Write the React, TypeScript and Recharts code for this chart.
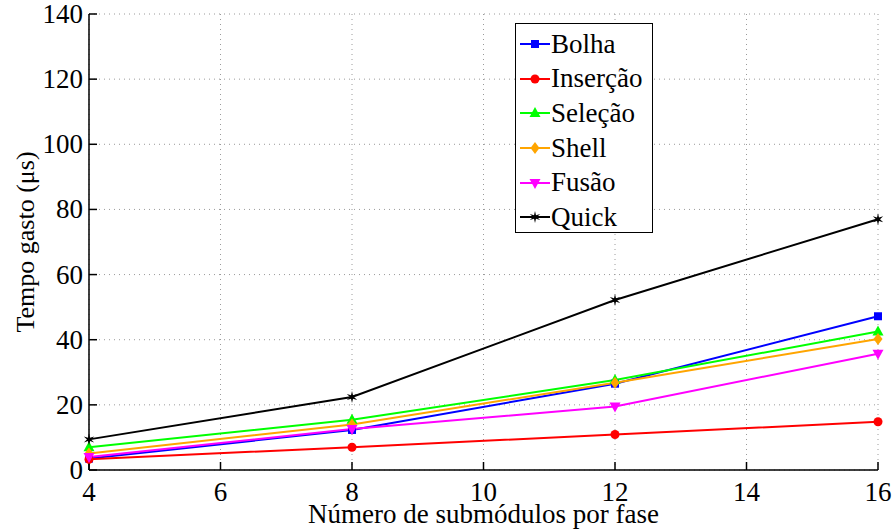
import { LineChart, Line, XAxis, YAxis, CartesianGrid } from "recharts";

const submodulos = [4, 8, 12, 16];

const bolha = [3.5, 12.3, 26.5, 47.2];
const insercao = [3.3, 7.0, 10.9, 14.8];
const selecao = [7.0, 15.4, 27.6, 42.5];
const shell = [5.1, 14.0, 26.8, 40.2];
const fusao = [4.0, 12.6, 19.5, 35.7];
const quick = [9.4, 22.4, 52.2, 77.0];

const xTicks = [4, 6, 8, 10, 12, 14, 16];
const yTicks = [0, 20, 40, 60, 80, 100, 120, 140];

const data = submodulos.map((n, i) => ({
  n,
  bolha: bolha[i],
  insercao: insercao[i],
  selecao: selecao[i],
  shell: shell[i],
  fusao: fusao[i],
  quick: quick[i],
}));

type Shape = "square" | "circle" | "up" | "diamond" | "down" | "star";

const series: { key: string; name: string; color: string; shape: Shape }[] = [
  { key: "bolha", name: "Bolha", color: "#0000ff", shape: "square" },
  { key: "insercao", name: "Inserção", color: "#ff0000", shape: "circle" },
  { key: "selecao", name: "Seleção", color: "#00ff00", shape: "up" },
  { key: "shell", name: "Shell", color: "#ffa500", shape: "diamond" },
  { key: "fusao", name: "Fusão", color: "#ff00ff", shape: "down" },
  { key: "quick", name: "Quick", color: "#000000", shape: "star" },
];

const FONT = "'Liberation Serif', 'DejaVu Serif', serif";
const TICK_IN = 8;

function Marker({ cx, cy, shape, color }: { cx: number; cy: number; shape: Shape; color: string }) {
  switch (shape) {
    case "square":
      return <rect x={cx - 4} y={cy - 4} width={8} height={8} fill={color} />;
    case "circle":
      return <circle cx={cx} cy={cy} r={4.5} fill={color} />;
    case "up":
      return <polygon points={`${cx},${cy - 6} ${cx - 5.5},${cy + 4} ${cx + 5.5},${cy + 4}`} fill={color} />;
    case "down":
      return <polygon points={`${cx},${cy + 6} ${cx - 5.5},${cy - 4} ${cx + 5.5},${cy - 4}`} fill={color} />;
    case "diamond":
      return <polygon points={`${cx},${cy - 6} ${cx + 4.5},${cy} ${cx},${cy + 6} ${cx - 4.5},${cy}`} fill={color} />;
    default: {
      const pts: string[] = [];
      for (let k = 0; k < 12; k++) {
        const a = (Math.PI / 6) * k - Math.PI / 2;
        const r = k % 2 === 0 ? 6 : 2;
        pts.push(`${cx + r * Math.cos(a)},${cy + r * Math.sin(a)}`);
      }
      return <polygon points={pts.join(" ")} fill={color} />;
    }
  }
}

function makeDot(shape: Shape, color: string) {
  return (props: any) => {
    const { cx, cy, index } = props;
    if (cx == null || cy == null) return <g key={index} />;
    return (
      <g key={index}>
        <Marker cx={cx} cy={cy} shape={shape} color={color} />
      </g>
    );
  };
}

// tick marks point inwards, so labels are pushed back out by TICK_IN
function XTick(props: any) {
  const { x, y, payload } = props;
  return (
    <text x={x} y={y + TICK_IN + 31} textAnchor="middle" fontFamily={FONT} fontSize={27} fill="#000">
      {payload.value}
    </text>
  );
}

function YTick(props: any) {
  const { x, y, payload } = props;
  return (
    <text x={x - TICK_IN - 6} y={y + 9} textAnchor="end" fontFamily={FONT} fontSize={27} fill="#000">
      {payload.value}
    </text>
  );
}

function NoTick() {
  return <g />;
}

function LegendBox() {
  return (
    <div
      style={{
        position: "absolute",
        left: 515,
        top: 23,
        boxSizing: "border-box",
        width: 138,
        height: 210,
        border: "1.5px solid #000",
        background: "#fff",
        padding: "3px 0 0 4px",
        fontFamily: FONT,
        fontSize: 27,
        color: "#000",
      }}
    >
      {series.map((s) => (
        <div key={s.key} style={{ display: "flex", alignItems: "center", height: 34.6 }}>
          <svg width={30} height={20} style={{ marginRight: 1, flex: "none" }}>
            <line x1={0} y1={10} x2={30} y2={10} stroke={s.color} strokeWidth={2} />
            <Marker cx={15} cy={10} shape={s.shape} color={s.color} />
          </svg>
          <span style={{ whiteSpace: "nowrap" }}>{s.name}</span>
        </div>
      ))}
    </div>
  );
}

export default function App() {
  return (
    <div style={{ position: "absolute", left: 0, top: 0, width: 895, height: 529, background: "#fff", fontFamily: FONT }}>
      <LineChart
        width={895}
        height={529}
        data={data}
        margin={{ top: 14, right: 17, left: 0, bottom: 0 }}
      >
        <CartesianGrid stroke="#9a9a9a" strokeDasharray="1 4" horizontalValues={yTicks} verticalValues={xTicks} />
        <XAxis
          dataKey="n"
          type="number"
          domain={[4, 16]}
          ticks={xTicks}
          interval={0}
          height={59}
          stroke="#000"
          strokeWidth={1.5}
          tickSize={-TICK_IN}
          tickMargin={0}
          tick={<XTick />}
          label={{
            value: "Número de submódulos por fase",
            position: "insideBottom",
            offset: 6,
            style: { fontFamily: FONT, fontSize: 27, fill: "#000" },
          }}
        />
        <YAxis
          type="number"
          domain={[0, 140]}
          ticks={yTicks}
          interval={0}
          width={89}
          stroke="#000"
          strokeWidth={1.5}
          tickSize={-TICK_IN}
          tickMargin={0}
          tick={<YTick />}
        />
        <XAxis xAxisId="top" dataKey="n" type="number" domain={[4, 16]} ticks={xTicks} interval={0} orientation="top" height={0} stroke="#000" strokeWidth={1.5} tickSize={-TICK_IN} tick={<NoTick />} />
        <YAxis yAxisId="right" type="number" domain={[0, 140]} ticks={yTicks} interval={0} orientation="right" width={0} stroke="#000" strokeWidth={1.5} tickSize={-TICK_IN} tick={<NoTick />} />
        {series.map((s) => (
          <Line
            key={s.key}
            type="linear"
            dataKey={s.key}
            name={s.name}
            stroke={s.color}
            strokeWidth={2}
            dot={makeDot(s.shape, s.color)}
            activeDot={false}
            isAnimationActive={false}
          />
        ))}
        <text
          x={25}
          y={242}
          transform="rotate(-90 25 242)"
          textAnchor="middle"
          dominantBaseline="central"
          fontFamily={FONT}
          fontSize={26}
          fill="#000"
        >
          Tempo gasto (μs)
        </text>
      </LineChart>
      <LegendBox />
    </div>
  );
}
